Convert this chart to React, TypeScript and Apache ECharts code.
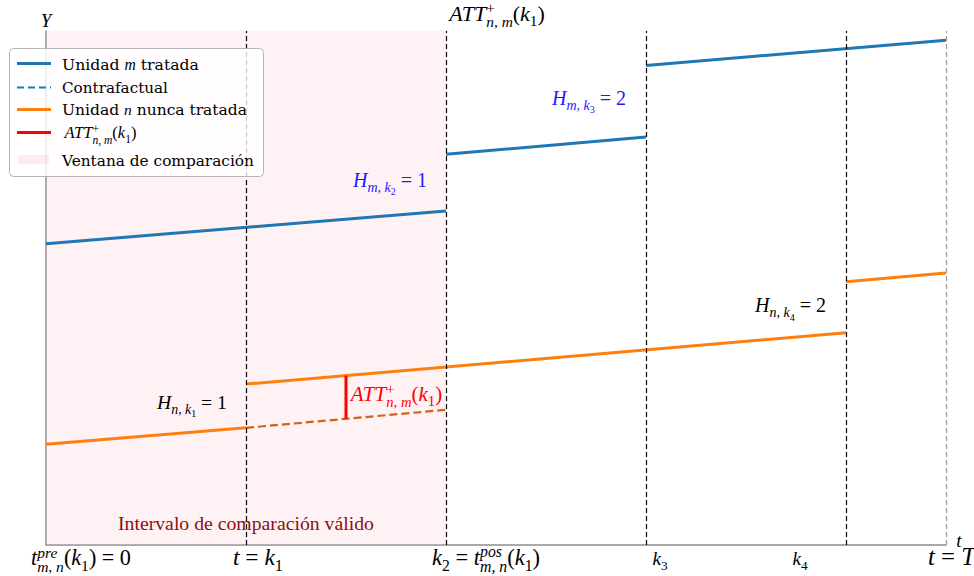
import React, { useEffect, useRef } from 'react';
import * as echarts from 'echarts';

// ---------------- data ----------------
const X_MIN = 0;
const X_MAX = 4.5;
const Y_MIN = 0;
const Y_MAX = 10;
const eventTimes = [1, 2, 3, 4];
const endTime = 4.5;
const windowRange = [0, 2];

const treatedSegments: number[][][] = [
  [[0, 5.86], [2, 6.5]],
  [[2, 7.6], [3, 7.94]],
  [[3, 9.33], [4.5, 9.82]],
];
const neverTreatedSegments: number[][][] = [
  [[0, 1.96], [1, 2.28]],
  [[1, 3.13], [4, 4.13]],
  [[4, 5.12], [4.5, 5.29]],
];
const counterfactual: number[][] = [[1, 2.28], [2, 2.63]];
const attSegment: number[][] = [[1.5, 2.455], [1.5, 3.297]];

// ---------------- colours ----------------
const BLUE = '#1f77b4';
const ORANGE = '#ff7f0e';
const CF = '#cf6418';
const RED = '#ff0000';
const LABEL_BLUE = '#1a1aff';

// ---------------- math text helper ----------------
type Frag = { t: string; r?: number; dy?: number; it?: boolean; st?: boolean; f?: string };
const MATH = '"Liberation Serif", "Times New Roman", serif';
const TEXTF = '"DejaVu Serif", serif';
const NB = '\u00a0';
const SUP = -0.34;
const SUB = 0.25;

let mctx: CanvasRenderingContext2D | null = null;
function measure(font: string, text: string): number {
  if (!mctx) mctx = document.createElement('canvas').getContext('2d');
  mctx!.font = font;
  return mctx!.measureText(text).width;
}
function fontOf(f: Frag, size: number): string {
  return `${f.it ? 'italic ' : ''}${(size * (f.r ?? 1)).toFixed(2)}px ${f.f ?? MATH}`;
}
function layoutFrags(frags: Frag[], size: number) {
  let cursor = 0;
  let lastStart = 0;
  const pos: number[] = [];
  frags.forEach((f) => {
    const w = measure(fontOf(f, size), f.t);
    const start = f.st ? lastStart : cursor;
    pos.push(start);
    cursor = f.st ? Math.max(cursor, start + w) : start + w;
    lastStart = start;
  });
  return { pos, width: cursor };
}
type LabelSpec = {
  frags: Frag[];
  x: number;
  y: number;
  align?: 'left' | 'center' | 'right';
  size?: number;
  w?: number;
  maxSize?: number;
  color?: string;
};
function mathLabel(spec: LabelSpec): any[] {
  let size = spec.size ?? 18;
  let x = spec.x;
  let align = spec.align ?? 'left';
  if (spec.w) {
    const base = layoutFrags(spec.frags, 100).width;
    size = (100 * spec.w) / base;
    if (spec.maxSize && size > spec.maxSize) {
      size = spec.maxSize;
      if (align === 'left') {
        x = spec.x + spec.w / 2;
        align = 'center';
      }
    }
  }
  const { pos, width } = layoutFrags(spec.frags, size);
  const ox = align === 'left' ? x : align === 'center' ? x - width / 2 : x - width;
  return spec.frags.map((f, i) => {
    const s = size * (f.r ?? 1);
    return {
      type: 'text',
      silent: true,
      z: 100,
      style: {
        text: f.t,
        x: ox + pos[i],
        y: spec.y + (f.dy ?? 0) * size - 0.34 * s,
        font: fontOf(f, size),
        fill: spec.color ?? '#000',
        align: 'left',
        verticalAlign: 'middle',
        textAlign: 'left',
        textVerticalAlign: 'middle',
      },
    };
  });
}

const attFrags = (): Frag[] => [
  { t: 'ATT', it: true },
  { t: '+', r: 0.7, dy: SUP },
  { t: 'n,' + NB + 'm', it: true, r: 0.7, dy: 0.3, st: true },
  { t: '(' },
  { t: 'k', it: true },
  { t: '1', r: 0.7, dy: SUB },
  { t: ')' },
];
const hFrags = (a: string, k: string, v: string): Frag[] => [
  { t: 'H', it: true },
  { t: a + ',' + NB + 'k', it: true, r: 0.7, dy: SUB },
  { t: k, r: 0.5, dy: 0.42 },
  { t: NB + '=' + NB + v },
];

function buildGraphics(): any[] {
  const els: any[] = [];
  const add = (s: LabelSpec) => els.push(...mathLabel(s));

  // axis titles
  add({ frags: [{ t: 'Y', it: true }], x: 46, y: 26.5, align: 'center', size: 19 });
  add({ frags: [{ t: 't', it: true }], x: 959, y: 547, align: 'center', size: 19 });
  // title
  add({ frags: attFrags(), x: 441, y: 20.5, w: 112, maxSize: 22 });
  // annotations
  add({ frags: hFrags('m', '2', '1'), x: 353, y: 187, w: 74, color: LABEL_BLUE });
  add({ frags: hFrags('m', '3', '2'), x: 552, y: 105, w: 74, color: LABEL_BLUE });
  add({ frags: hFrags('n', '4', '2'), x: 755, y: 312, w: 71 });
  add({ frags: hFrags('n', '1', '1'), x: 157, y: 409, w: 70 });
  add({ frags: attFrags(), x: 348, y: 401, w: 97, maxSize: 21, color: RED });
  add({ frags: [{ t: 'Intervalo de comparación válido' }], x: 118, y: 530, w: 256, color: '#8b1010' });

  // x tick labels
  const TB = 565;
  add({
    frags: [
      { t: 't', it: true },
      { t: 'pre', it: true, r: 0.7, dy: SUP },
      { t: 'm,' + NB + 'n', it: true, r: 0.7, dy: 0.3, st: true },
      { t: '(' },
      { t: 'k', it: true },
      { t: '1', r: 0.7, dy: SUB },
      { t: ')' + NB + '=' + NB + '0' },
    ],
    x: 31, y: TB, w: 100,
  });
  add({
    frags: [{ t: 't', it: true }, { t: NB + '=' + NB }, { t: 'k', it: true }, { t: '1', r: 0.7, dy: SUB }],
    x: 233, y: TB, w: 50,
  });
  add({
    frags: [
      { t: 'k', it: true },
      { t: '2', r: 0.7, dy: SUB },
      { t: NB + '=' + NB },
      { t: 't', it: true },
      { t: 'pos', it: true, r: 0.7, dy: SUP },
      { t: 'm,' + NB + 'n', it: true, r: 0.7, dy: 0.3, st: true },
      { t: '(' },
      { t: 'k', it: true },
      { t: '1', r: 0.7, dy: SUB },
      { t: ')' },
    ],
    x: 432, y: TB, w: 108,
  });
  add({ frags: [{ t: 'k', it: true }, { t: '3', r: 0.7, dy: SUB }], x: 660, y: TB, align: 'center', size: 19 });
  add({ frags: [{ t: 'k', it: true }, { t: '4', r: 0.7, dy: SUB }], x: 800, y: TB, align: 'center', size: 19 });
  add({ frags: [{ t: 't', it: true }, { t: NB + '=' + NB }, { t: 'T', it: true }], x: 928, y: TB, w: 47 });

  // legend
  els.push({
    type: 'rect',
    silent: true,
    z: 90,
    shape: { x: 9.5, y: 48.5, width: 254, height: 128, r: 4 },
    style: { fill: 'rgba(255,255,255,0.8)', stroke: '#b5b5b5', lineWidth: 1 },
  });
  const handle = (y: number, stroke: string, lineWidth: number, dash?: number[]) =>
    els.push({
      type: 'line',
      silent: true,
      z: 91,
      shape: { x1: 17, y1: y, x2: 51, y2: y },
      style: { stroke, lineWidth, lineDash: dash },
    });
  handle(63.5, BLUE, 3);
  handle(87.5, BLUE, 2, [7, 4]);
  handle(109.5, ORANGE, 3);
  handle(132.5, RED, 3);
  els.push({
    type: 'rect',
    silent: true,
    z: 91,
    shape: { x: 18, y: 155, width: 31, height: 9.5 },
    style: { fill: 'rgba(255,192,203,0.3)' },
  });
  add({
    frags: [{ t: 'Unidad' + NB, f: TEXTF }, { t: 'm', it: true }, { t: NB + 'tratada', f: TEXTF }],
    x: 62, y: 70, w: 137,
  });
  add({ frags: [{ t: 'Contrafactual', f: TEXTF }], x: 62, y: 93, w: 106 });
  add({
    frags: [{ t: 'Unidad' + NB, f: TEXTF }, { t: 'n', it: true }, { t: NB + 'nunca tratada', f: TEXTF }],
    x: 62, y: 115, w: 185,
  });
  add({ frags: attFrags(), x: 63, y: 138.5, w: 75, maxSize: 16.5 });
  add({ frags: [{ t: 'Ventana de comparación', f: TEXTF }], x: 62, y: 166, w: 192 });
  return els;
}

function buildOption(): any {
  const series: any[] = [];
  series.push({
    type: 'line',
    data: [],
    silent: true,
    z: 0,
    markArea: {
      silent: true,
      itemStyle: { color: 'rgba(255,192,203,0.2)' },
      data: [[{ xAxis: windowRange[0] }, { xAxis: windowRange[1] }]],
    },
  });
  series.push({
    type: 'line',
    data: [],
    silent: true,
    z: 5,
    markLine: {
      silent: true,
      symbol: ['none', 'none'],
      label: { show: false },
      lineStyle: { color: '#000', width: 1.2, type: [5, 3] },
      emphasis: { disabled: true },
      data: [
        ...eventTimes.map((t) => ({ xAxis: t })),
        { xAxis: endTime, lineStyle: { color: '#9a9a9a', width: 1.2, type: [5, 3] } },
      ],
    },
  });
  treatedSegments.forEach((seg) =>
    series.push({ type: 'line', data: seg, symbol: 'none', silent: true, z: 3, lineStyle: { color: BLUE, width: 3 } })
  );
  neverTreatedSegments.forEach((seg) =>
    series.push({ type: 'line', data: seg, symbol: 'none', silent: true, z: 3, lineStyle: { color: ORANGE, width: 3 } })
  );
  series.push({
    type: 'line',
    data: counterfactual,
    symbol: 'none',
    silent: true,
    z: 3,
    lineStyle: { color: CF, width: 2.2, type: [8, 4] },
  });
  series.push({
    type: 'line',
    data: attSegment,
    symbol: 'none',
    silent: true,
    z: 4,
    lineStyle: { color: RED, width: 3 },
  });

  const axisCommon = {
    type: 'value',
    axisLine: { show: true, onZero: false, lineStyle: { color: '#8c8c8c', width: 1.5 } },
    axisTick: { show: false },
    axisLabel: { show: false },
    splitLine: { show: false },
  };
  return {
    animation: false,
    backgroundColor: '#ffffff',
    grid: { left: 46, right: 28, top: 31, bottom: 31, containLabel: false },
    xAxis: { ...axisCommon, min: X_MIN, max: X_MAX },
    yAxis: { ...axisCommon, min: Y_MIN, max: Y_MAX },
    series,
    graphic: { elements: buildGraphics() },
  };
}

export default function App() {
  const ref = useRef<HTMLDivElement>(null);
  useEffect(() => {
    const chart = echarts.init(ref.current!, null, { renderer: 'svg' });
    chart.setOption(buildOption());
    return () => chart.dispose();
  }, []);
  return (
    <div
      ref={ref}
      style={{ position: 'absolute', left: 0, top: 0, width: 974, height: 576 }}
    />
  );
}
